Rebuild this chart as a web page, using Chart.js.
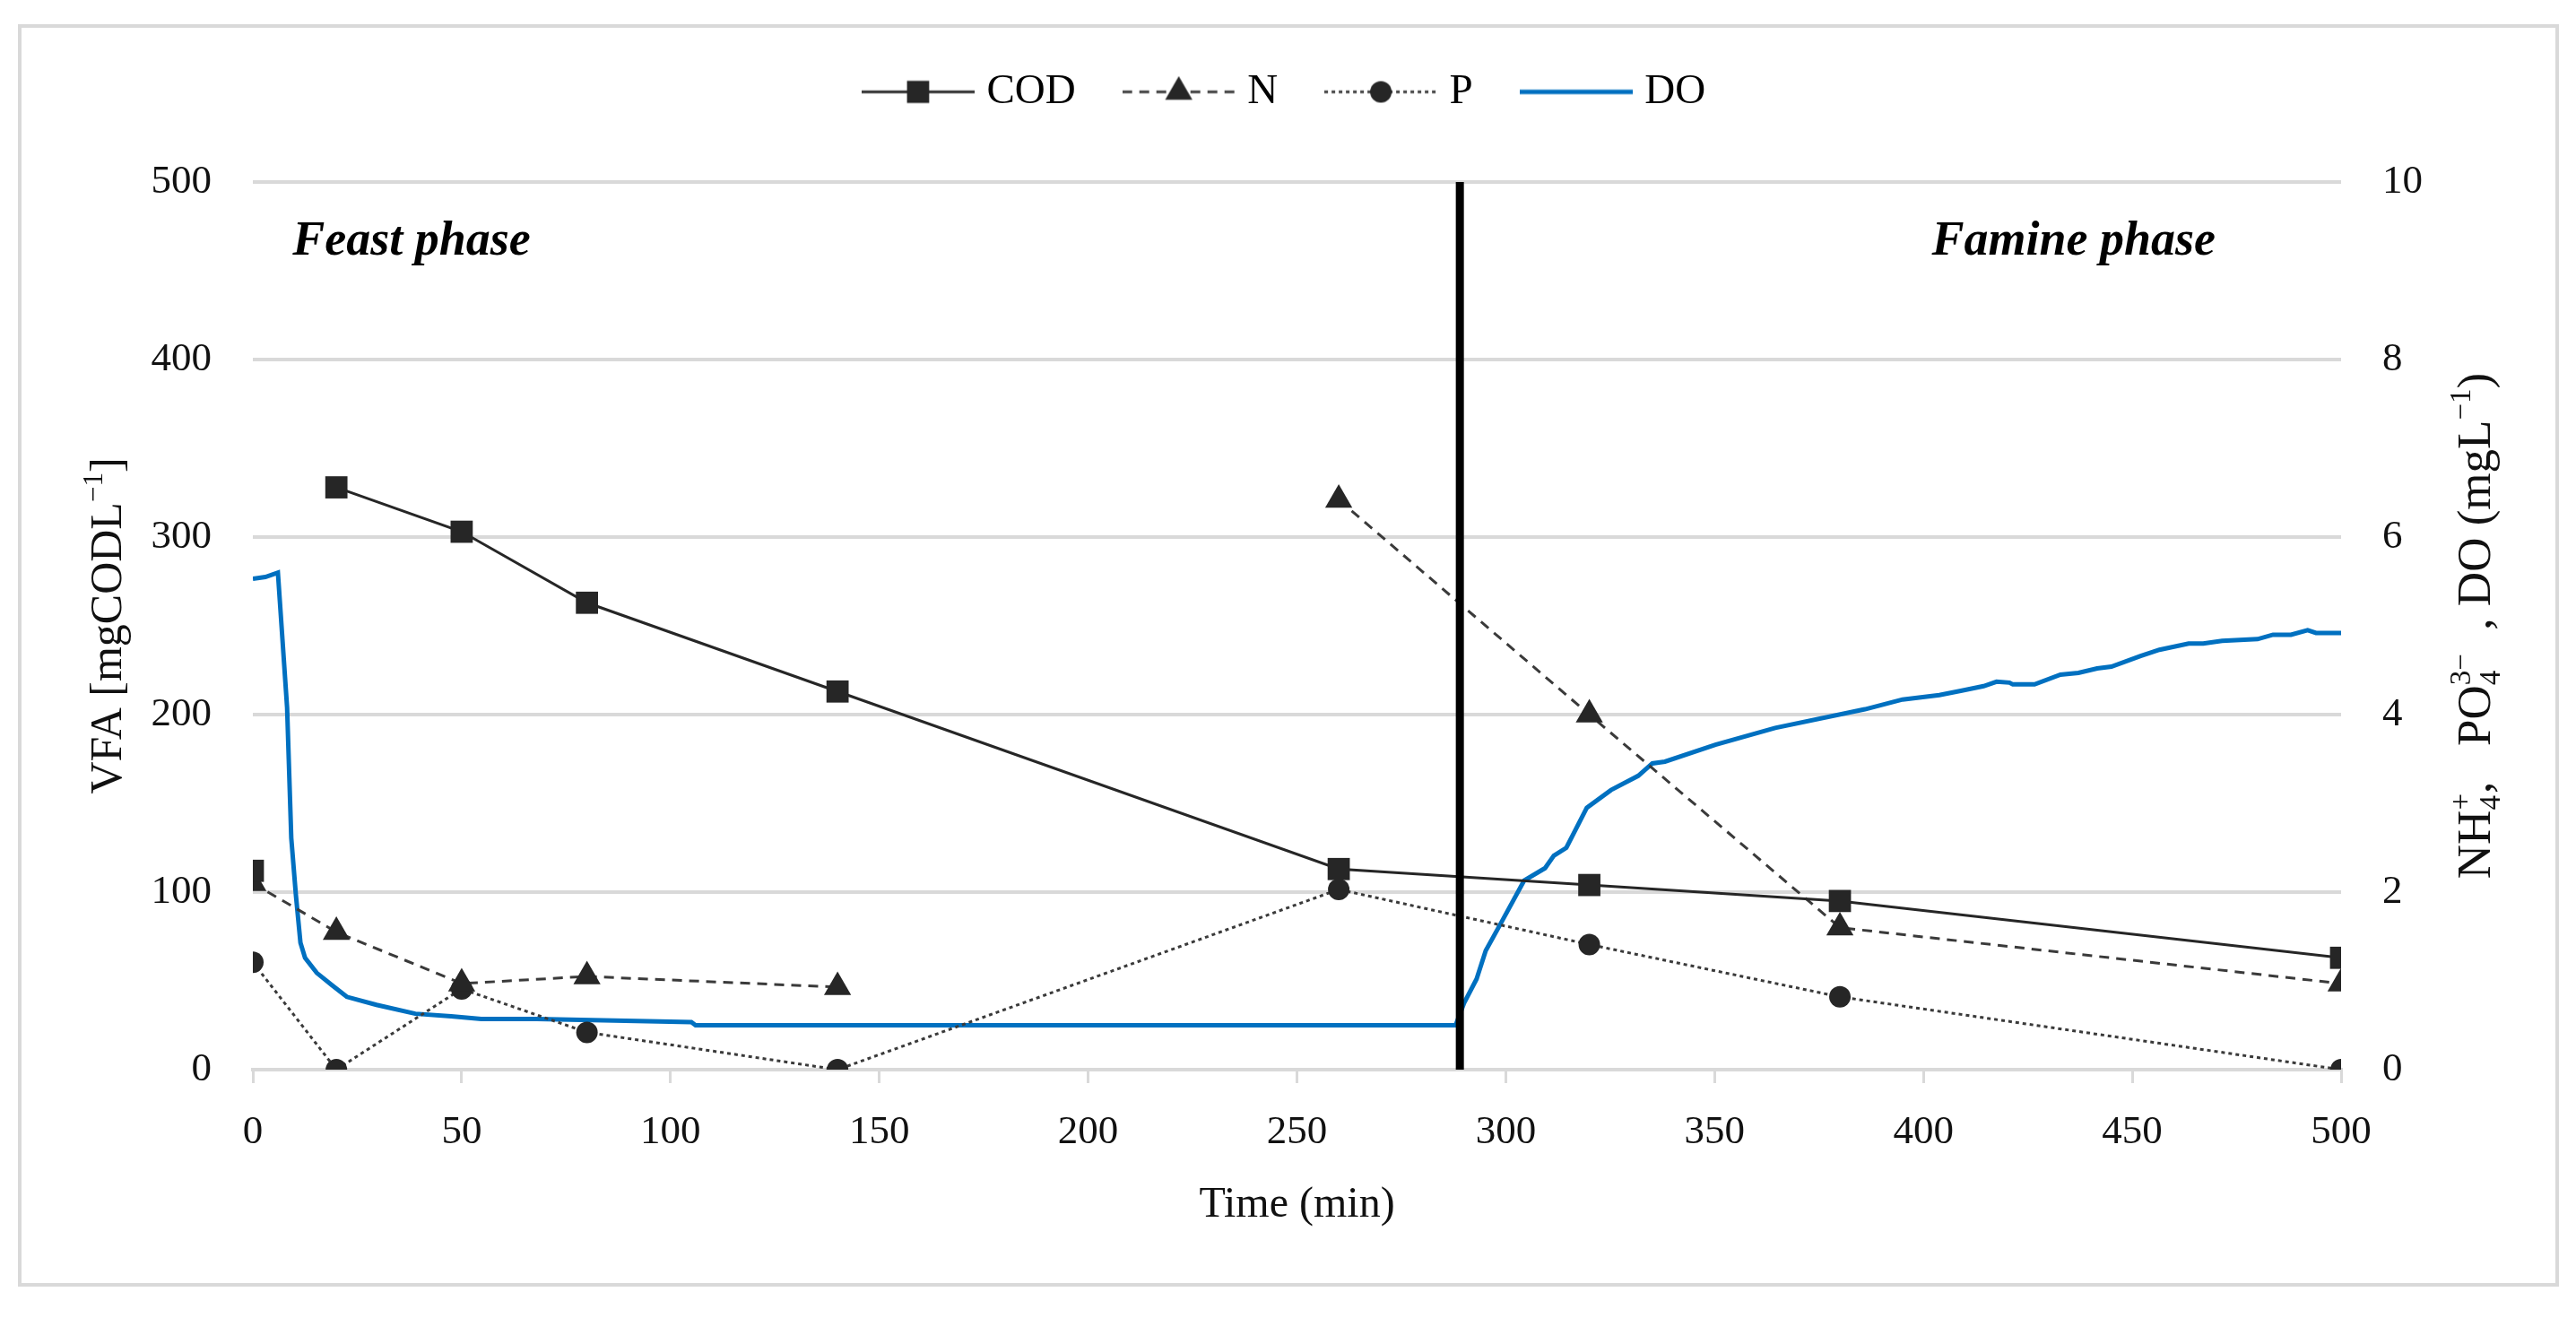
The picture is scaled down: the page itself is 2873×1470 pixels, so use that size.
<!DOCTYPE html>
<html>
<head>
<meta charset="utf-8">
<title>Feast / famine</title>
<script src="https://cdn.jsdelivr.net/npm/chart.js@4.4.0/dist/chart.umd.min.js"></script>
<style>
  html, body { margin: 0; padding: 0; background: #fff; }
  canvas { display: block; }
</style>
</head>
<body>
<canvas id="grafico" width="2873" height="1470"></canvas>
<script>
// sampling times (min) shared by COD, N and P
var sampleTimes = [0, 20, 50, 80, 140, 260, 320, 380, 500];
var codValues = [112, 328, 303, 263, 213, 113, 104, 95, 63];          // mgCOD/L, left axis
var nValues = [2.1, 1.55, 0.97, 1.05, 0.93, 6.42, 4.0, 1.6, 0.97];   // mg/L, right axis
var pValues = [1.21, 0, 0.91, 0.42, 0, 2.03, 1.41, 0.82, 0];         // mg/L, right axis
// the original has no line after these indexes
var codGapAfter = [0];
var nGapAfter = [4];

// dissolved oxygen probe trace (mg/L)
var doTime = [0, 3, 6, 8.2, 9.2, 10.3, 11.4, 12.5, 15.3, 19, 22.5, 29.6, 38.9, 47.5, 54.7, 68, 105, 106, 288,
  290, 293, 295.2, 298.6, 304.4, 309.4, 311.5, 314.5, 319.4, 325.2, 331.7, 335.1, 338.1, 350.2, 364.5, 386,
  395, 403.8, 409.2, 414.4, 417.5, 420.6, 421.4, 426.6, 432.8, 437.1, 441.6, 445, 452, 456.5, 463.5, 467,
  471.5, 480, 483.7, 488, 492, 494, 500];
var doValues = [5.53, 5.55, 5.6, 4.08, 2.61, 1.97, 1.43, 1.26, 1.09, 0.95, 0.82, 0.73, 0.63, 0.6, 0.57, 0.57, 0.535, 0.5, 0.5,
  0.75, 1.02, 1.34, 1.63, 2.13, 2.27, 2.41, 2.5, 2.95, 3.15, 3.31, 3.45, 3.47, 3.66, 3.85, 4.06,
  4.17, 4.22, 4.27, 4.32, 4.37, 4.36, 4.34, 4.34, 4.45, 4.47, 4.52, 4.54, 4.66, 4.73, 4.8, 4.8,
  4.83, 4.85, 4.9, 4.9, 4.95, 4.92, 4.92];

var seriesNames = ["COD", "N", "P", "DO"];
var phaseSplit = 289;
var phaseNames = ["Feast phase", "Famine phase"];
var timeRange = [0, 500, 50];
var vfaRange = [0, 500, 100];
var mgRange = [0, 10, 2];

var SERIF = '"Liberation Serif", "Times New Roman", serif';

function puntos(xs, ys) {
  return xs.map(function (x, i) { return { x: x, y: ys[i] }; });
}

function conHueco(gaps) {
  return function (c) {
    return gaps.indexOf(c.p0DataIndex) >= 0 ? "rgba(0,0,0,0)" : undefined;
  };
}

var datasets = [
  {
    label: seriesNames[0], yAxisID: "y", order: 1,
    data: puntos(sampleTimes, codValues),
    borderColor: "#262626", borderWidth: 3,
    pointStyle: "rect", pointRadius: 17.5, pointBackgroundColor: "#262626", pointBorderWidth: 0,
    segment: { borderColor: conHueco(codGapAfter) }
  },
  {
    label: seriesNames[1], yAxisID: "y2", order: 2,
    data: puntos(sampleTimes, nValues),
    borderColor: "#3a3a3a", borderWidth: 3, borderDash: [11, 8],
    pointStyle: "triangle", pointRadius: 17.5, pointBackgroundColor: "#262626", pointBorderWidth: 0,
    segment: { borderColor: conHueco(nGapAfter) }
  },
  {
    label: seriesNames[2], yAxisID: "y2", order: 3,
    data: puntos(sampleTimes, pValues),
    borderColor: "#3a3a3a", borderWidth: 3, borderDash: [4, 4],
    pointStyle: "circle", pointRadius: 12, pointBackgroundColor: "#262626", pointBorderWidth: 0
  },
  {
    label: seriesNames[3], yAxisID: "y2", order: 4,
    data: puntos(doTime, doValues),
    borderColor: "#0070C0", borderWidth: 5, pointRadius: 0
  },
  {
    label: "phase", yAxisID: "y", order: 0,
    data: [{ x: phaseSplit, y: vfaRange[0] }, { x: phaseSplit, y: vfaRange[1] }],
    borderColor: "#000", borderWidth: 9, pointRadius: 0
  }
];

// legend icon: line with its marker, like the spreadsheet legend
function iconoLeyenda(ds) {
  var c = document.createElement("canvas");
  c.width = 126; c.height = 36;
  var g = c.getContext("2d");
  g.strokeStyle = ds.borderColor;
  g.lineWidth = ds.borderWidth;
  g.setLineDash(ds.borderDash || []);
  g.beginPath(); g.moveTo(0, 18); g.lineTo(126, 18); g.stroke();
  g.setLineDash([]);
  if (ds.pointRadius > 0) {
    g.fillStyle = ds.pointBackgroundColor;
    Chart.helpers.drawPoint(g, { pointStyle: ds.pointStyle, radius: ds.pointRadius, borderWidth: 0, rotation: 0 }, 63, 18);
  }
  return c;
}

function textoRico(ctx, partes, cx, cy, rot, size) {
  var small = Math.round(size * 0.62);
  var total = 0;
  partes.forEach(function (p) {
    if (p.t !== undefined) {
      ctx.font = size + "px " + SERIF;
      p.w = ctx.measureText(p.t).width;
    } else {
      ctx.font = small + "px " + SERIF;
      p.w = Math.max(p.sub ? ctx.measureText(p.sub).width : 0, p.sup ? ctx.measureText(p.sup).width : 0);
    }
    total += p.w;
  });
  ctx.save();
  ctx.translate(cx, cy);
  ctx.rotate(rot);
  ctx.fillStyle = "#111";
  ctx.textAlign = "left";
  ctx.textBaseline = "alphabetic";
  var x = -total / 2, base = size * 0.33;
  partes.forEach(function (p) {
    if (p.t !== undefined) {
      ctx.font = size + "px " + SERIF;
      ctx.fillText(p.t, x, base);
    } else {
      ctx.font = small + "px " + SERIF;
      if (p.sup) ctx.fillText(p.sup, x, base - size * 0.42);
      if (p.sub) ctx.fillText(p.sub, x, base + size * 0.2);
    }
    x += p.w;
  });
  ctx.restore();
}

var espacioLeyenda = {
  id: "espacioLeyenda",
  beforeInit: function (chart) {
    var fitOriginal = chart.legend.fit;
    chart.legend.fit = function () {
      fitOriginal.call(this);
      this.height += 67;
    };
  }
};

var extras = {
  id: "extras",
  beforeDraw: function (chart) {
    var ctx = chart.ctx;
    ctx.save();
    ctx.strokeStyle = "#d9d9d9";
    ctx.lineWidth = 4;
    ctx.strokeRect(22, 29, 2830, 1404);
    ctx.restore();
  },
  afterDraw: function (chart) {
    var ctx = chart.ctx, a = chart.chartArea;
    var sx = chart.scales.x, sy = chart.scales.y;
    ctx.save();
    ctx.fillStyle = "#000";
    ctx.font = "italic bold 54px " + SERIF;
    ctx.textAlign = "left";
    ctx.textBaseline = "alphabetic";
    ctx.fillText(phaseNames[0], sx.getPixelForValue(9.5), sy.getPixelForValue(459));
    ctx.fillText(phaseNames[1], sx.getPixelForValue(402), sy.getPixelForValue(459));
    ctx.restore();

    var midY = (a.top + a.bottom) / 2;
    textoRico(ctx, [{ t: "VFA [mgCODL" }, { sup: "\u22121" }, { t: "]" }],
      a.left - 164, midY, -Math.PI / 2, 50);
    textoRico(ctx, [{ t: "NH" }, { sub: "4", sup: "+" }, { t: ",   PO" }, { sub: "4", sup: "3\u2212" },
      { t: "  , DO (mgL" }, { sup: "\u22121" }, { t: ")" }],
      a.right + 149, midY, -Math.PI / 2, 53);
    textoRico(ctx, [{ t: "Time (min)" }], (a.left + a.right) / 2, a.bottom + 148, 0, 48);
  }
};

var tickFont = { family: SERIF, size: 45 };

new Chart(document.getElementById("grafico"), {
  type: "line",
  data: { datasets: datasets },
  plugins: [espacioLeyenda, extras],
  options: {
    responsive: false,
    devicePixelRatio: 1,
    animation: false,
    layout: { padding: { top: 17, left: 0, right: 0, bottom: 0 } },
    elements: { line: { tension: 0 } },
    plugins: {
      tooltip: { enabled: false },
      legend: {
        position: "top",
        labels: {
          usePointStyle: true,
          pointStyleWidth: 106,
          padding: 62,
          color: "#111",
          font: { family: SERIF, size: 47 },
          generateLabels: function (chart) {
            return chart.data.datasets.slice(0, seriesNames.length).map(function (ds, i) {
              return {
                text: ds.label, datasetIndex: i, pointStyle: iconoLeyenda(ds),
                fillStyle: ds.borderColor, strokeStyle: ds.borderColor, lineWidth: 0, hidden: false
              };
            });
          }
        }
      }
    },
    scales: {
      x: {
        type: "linear", position: "bottom",
        min: timeRange[0], max: timeRange[1],
        afterFit: function (s) { s.height = 277; },
        border: { display: true, color: "#d9d9d9", width: 4 },
        grid: { display: true, drawOnChartArea: false, drawTicks: true, tickLength: 15, color: "#d9d9d9", lineWidth: 3 },
        ticks: { stepSize: timeRange[2], padding: 28, color: "#111", font: tickFont, maxRotation: 0 }
      },
      y: {
        type: "linear", position: "left",
        min: vfaRange[0], max: vfaRange[1],
        afterFit: function (s) { s.width = 282; },
        border: { display: false },
        grid: { color: "#d9d9d9", lineWidth: 4, drawTicks: false },
        ticks: { stepSize: vfaRange[2], padding: 46, color: "#111", font: tickFont }
      },
      y2: {
        type: "linear", position: "right",
        min: mgRange[0], max: mgRange[1],
        afterFit: function (s) { s.width = 262; },
        border: { display: false },
        grid: { display: false, drawTicks: false },
        ticks: { stepSize: mgRange[2], padding: 46, color: "#111", font: tickFont }
      }
    }
  }
});
</script>
</body>
</html>
